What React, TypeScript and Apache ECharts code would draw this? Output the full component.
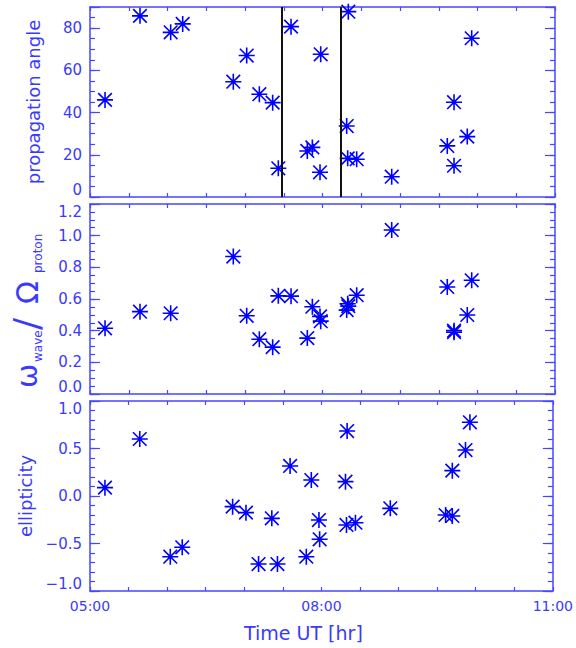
import React, { useEffect, useRef } from 'react';
import * as echarts from 'echarts';

// Event times, decimal hours UT
const timesHr = [5.194, 5.645, 6.041, 6.196, 6.849, 7.022, 7.185, 7.357, 7.43, 7.594, 7.804, 7.869, 7.968, 7.977, 8.312, 8.325, 8.333, 8.441, 8.893, 9.61, 9.697, 9.697, 9.868, 9.925];
// Panel 1: propagation angle [deg]
const propagationAngle = [46, 85.8, 78, 82, 54.6, 67, 48.7, 44.7, 13.6, 80.7, 21.8, 23.5, 11.7, 67.6, 33.6, 18.3, 87.8, 17.9, 9.6, 24.2, 44.9, 14.8, 28.6, 75.2];
// Panel 2: omega_wave / Omega_proton (null = outside plotted range)
const freqRatio: (number | null)[] = [0.415, 0.52, 0.51, null, 0.868, 0.494, 0.346, 0.296, 0.62, 0.618, 0.353, 0.551, 0.49, 0.46, 0.53, 0.57, 0.555, 0.624, 1.036, 0.676, 0.39, 0.4, 0.499, 0.718];
// Panel 3: ellipticity
const ellipticity = [0.088, 0.6, -0.639, -0.54, -0.112, -0.175, -0.716, -0.235, -0.716, 0.316, -0.639, 0.168, -0.253, -0.456, 0.151, -0.305, 0.684, -0.281, -0.13, -0.2, -0.21, 0.267, 0.484, 0.776];
// Vertical reference lines in panel 1 (hours UT)
const markerTimesHr = [7.481, 8.235];
// X tick labels
const xTickHours = [5, 8, 11];
const xTickLabels = ['05:00', '08:00', '11:00'];

const AXIS = '#4646ff';
const TEXT = '#3a3aff';
const MARK = '#0000ff';
const FONT = 'DejaVu Sans';

const GRID_LEFT = 90;
const GRID_W = 465;
const GRID_H = 190;
const GRID_TOPS = [7, 204, 401];

const STAR = 'path://M0 -10 L0 10 M-10 0 L10 0 M-8.5 -8.5 L8.5 8.5 M-8.5 8.5 L8.5 -8.5';

const xFmt = (v: number) => {
  const i = xTickHours.findIndex((h) => Math.abs(h - v) < 1e-6);
  return i >= 0 ? xTickLabels[i] : '';
};

const panels = [
  {
    values: propagationAngle as (number | null)[],
    min: 0, max: 90, major: 20, minor: 5,
    fmt: (v: number) => (Math.abs(v % 20) < 1e-6 && v <= 80 ? String(Math.round(v)) : ''),
    name: 'propagation angle',
  },
  {
    values: freqRatio,
    min: 0, max: 1.2, major: 0.2, minor: 0.05,
    fmt: (v: number) => v.toFixed(1),
    name: '',
  },
  {
    values: ellipticity as (number | null)[],
    min: -1, max: 1, major: 0.5, minor: 0.1,
    fmt: (v: number) => (v < -1e-9 ? '\u2212' : '') + Math.abs(v).toFixed(1),
    name: 'ellipticity',
  },
];

function buildOption() {
  const grid: any[] = [];
  const xAxis: any[] = [];
  const yAxis: any[] = [];
  const series: any[] = [];

  panels.forEach((p, g) => {
    grid.push({ left: GRID_LEFT, top: GRID_TOPS[g], width: GRID_W, height: GRID_H, containLabel: false });
    ['bottom', 'top'].forEach((pos) => {
      xAxis.push({
        type: 'value', gridIndex: g, position: pos, min: 5, max: 11, interval: 0.5,
        axisLine: { show: true, onZero: false, lineStyle: { color: AXIS, width: 1.5 } },
        axisTick: { show: true, inside: true, length: 4, lineStyle: { color: AXIS, width: 1.2 } },
        axisLabel: {
          show: g === 2 && pos === 'bottom', formatter: xFmt, color: TEXT,
          fontSize: 14, fontFamily: FONT, margin: 8, showMinLabel: true, showMaxLabel: true,
        },
        splitLine: { show: false },
        name: g === 2 && pos === 'bottom' ? 'Time UT [hr]' : '',
        nameLocation: 'middle', nameGap: 32,
        nameTextStyle: { color: TEXT, fontSize: 19, fontFamily: FONT, padding: [0, 36, 0, 0] },
      });
    });
    ['left', 'right'].forEach((pos) => {
      // major ticks (with labels on the left)
      yAxis.push({
        type: 'value', gridIndex: g, position: pos, min: p.min, max: p.max, interval: p.major,
        axisLine: { show: true, onZero: false, lineStyle: { color: AXIS, width: 1.5 } },
        axisTick: { show: true, inside: true, length: 10, lineStyle: { color: AXIS, width: 1.2 } },
        axisLabel: {
          show: pos === 'left', formatter: p.fmt, color: TEXT, fontSize: 15, fontFamily: FONT, margin: 8,
          showMinLabel: true, showMaxLabel: true,
          verticalAlignMinLabel: 'bottom', verticalAlignMaxLabel: 'top',
        },
        splitLine: { show: false },
        name: pos === 'left' ? p.name : '',
        nameLocation: 'middle', nameRotate: 90, nameGap: 48,
        nameTextStyle: { color: TEXT, fontSize: 18, fontFamily: FONT },
      });
      // minor ticks
      yAxis.push({
        type: 'value', gridIndex: g, position: pos, min: p.min, max: p.max, interval: p.minor,
        axisLine: { show: false, onZero: false },
        axisTick: { show: true, inside: true, length: 5, lineStyle: { color: AXIS, width: 1.2 } },
        axisLabel: { show: false },
        splitLine: { show: false },
      });
    });

    const data = timesHr
      .map((t, i) => [t, p.values[i]])
      .filter((d) => d[1] !== null && d[1] !== undefined);

    const s: any = {
      type: 'scatter', xAxisIndex: g * 2, yAxisIndex: g * 4, data,
      symbol: STAR, symbolSize: 16,
      itemStyle: { color: MARK, borderColor: MARK, borderWidth: 1.6, opacity: 1 },
      emphasis: { disabled: true },
      silent: true,
      clip: true,
      z: 3,
    };
    if (g === 0) {
      s.markLine = {
        silent: true, symbol: ['none', 'none'], label: { show: false },
        lineStyle: { color: '#111111', width: 2, type: 'solid' },
        emphasis: { disabled: true },
        data: markerTimesHr.map((t) => ({ xAxis: t })),
      };
    }
    series.push(s);
  });

  const txt = (text: string, x: number, y: number, fontSize: number) => ({
    type: 'text', x, y,
    style: {
      text, fontSize, fontFamily: FONT, fill: TEXT,
      align: 'left', verticalAlign: 'middle', textAlign: 'left', textVerticalAlign: 'middle',
    },
  });

  const graphic = [
    {
      type: 'group', x: 27, y: 388, rotation: Math.PI / 2, silent: true,
      children: [
        txt('ω', 0, 0, 29),
        txt('wave', 26, 11, 12),
        txt('/', 58, -1, 36),
        txt('Ω', 84, 0, 30),
        txt('proton', 115, 11, 12),
      ],
    },
  ];

  return {
    animation: false,
    backgroundColor: '#ffffff',
    textStyle: { fontFamily: FONT },
    grid, xAxis, yAxis, series, graphic,
  };
}

export default function App() {
  const ref = useRef<HTMLDivElement>(null);
  useEffect(() => {
    if (!ref.current) return;
    const chart = echarts.init(ref.current, undefined, { renderer: 'svg' });
    chart.setOption(buildOption() as any);
    return () => chart.dispose();
  }, []);
  return (
    <div
      ref={ref}
      style={{ position: 'fixed', left: 0, top: 0, width: 576, height: 648, background: '#fff' }}
    />
  );
}
